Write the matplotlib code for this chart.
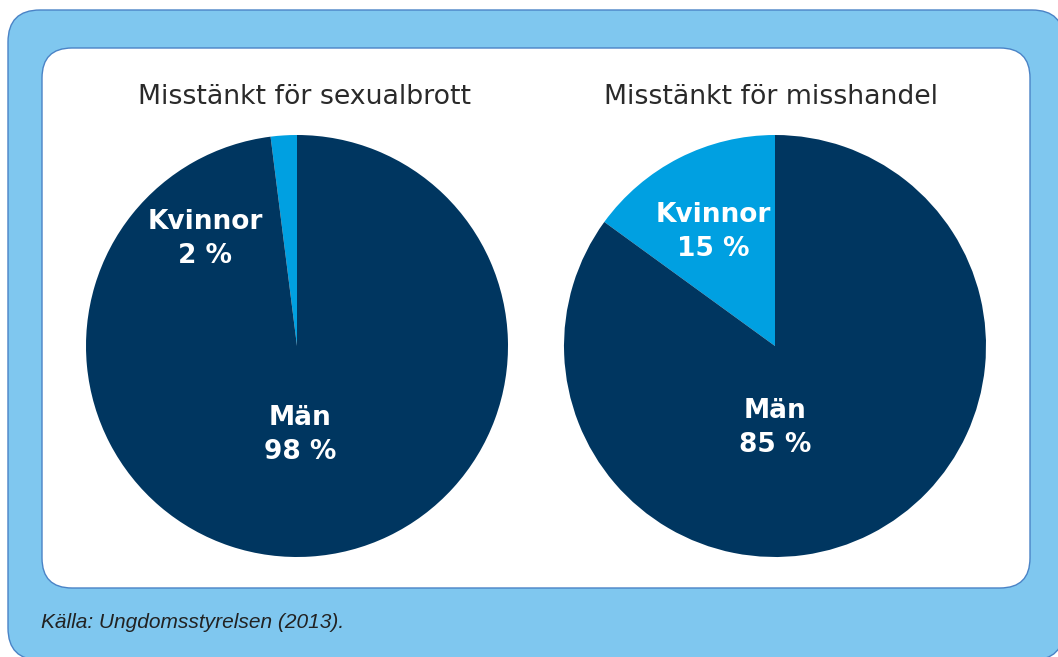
import matplotlib.pyplot as plt
from matplotlib.patches import FancyBboxPatch

# data
titles = ["Misstänkt för sexualbrott", "Misstänkt för misshandel"]
groups = ["Kvinnor", "Män"]
shares_sexualbrott = [2, 98]
shares_misshandel = [15, 85]
source = "Källa: Ungdomsstyrelsen (2013)."

# colours
NAVY = "#003660"
LIGHT = "#00a0e1"
FRAME = "#7fc7ef"
EDGE = "#4a83c6"

W, H = 1058, 657
fig = plt.figure(figsize=(W / 100, H / 100), dpi=100)

# background frame in pixel coords
bg = fig.add_axes([0, 0, 1, 1])
bg.set_xlim(0, W)
bg.set_ylim(H, 0)
bg.axis("off")
bg.add_patch(FancyBboxPatch((8, 10), 1056, 650, boxstyle="round,pad=0,rounding_size=32",
                            fc=FRAME, ec=EDGE, lw=1))
bg.add_patch(FancyBboxPatch((42, 48), 988, 540, boxstyle="round,pad=0,rounding_size=30",
                            fc="white", ec=EDGE, lw=1))
bg.text(41, 622, source, fontsize=15, style="italic", family="Liberation Sans",
        color="#222222", va="center", ha="left")

# pies: centre x, centre y (px), radius, label positions in pie units
pies = [
    (297, 346, 211, shares_sexualbrott, titles[0], 304, (-0.436, 0.507), (0.014, -0.42)),
    (775, 346, 211, shares_misshandel, titles[1], 771, (-0.294, 0.54), (0.0, -0.39)),
]

for cx, cy, r, vals, title, tx, kpos, mpos in pies:
    ax = fig.add_axes([(cx - r) / W, (H - cy - r) / H, 2 * r / W, 2 * r / H])
    ax.pie(vals, colors=[LIGHT, NAVY], startangle=90, counterclock=True,
           radius=1, wedgeprops=dict(linewidth=0))
    ax.set_xlim(-1, 1)
    ax.set_ylim(-1, 1)
    ax.axis("off")
    ax.text(kpos[0], kpos[1], f"{groups[0]}\n{vals[0]} %", ha="center", va="center",
            color="white", fontsize=19, fontweight="bold", linespacing=1.4)
    ax.text(mpos[0], mpos[1], f"{groups[1]}\n{vals[1]} %", ha="center", va="center",
            color="white", fontsize=19, fontweight="bold", linespacing=1.4)
    bg.text(tx, 97, title, ha="center", va="center", fontsize=19.3, color="#2a2a2a")

fig.savefig("out.png", dpi=100)
